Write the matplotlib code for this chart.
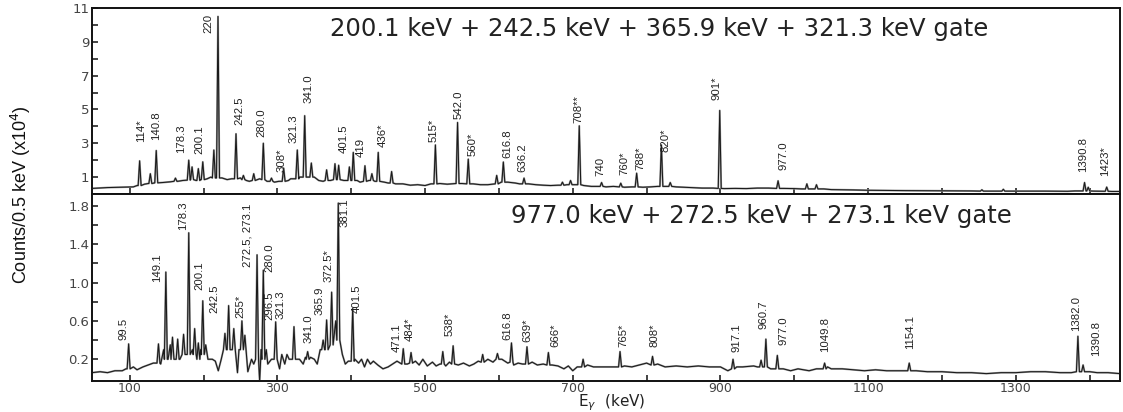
import matplotlib
matplotlib.use('Agg')
import matplotlib.pyplot as plt
from matplotlib import font_manager
import numpy as np


def has_font(name):
    try:
        font_manager.findfont(font_manager.FontProperties(family=name), fallback_to_default=False)
        return True
    except Exception:
        return False


NARROW = 'Liberation Sans Narrow' if has_font('Liberation Sans Narrow') else 'Liberation Sans'
LBL_FS = 9.5 if NARROW == 'Liberation Sans Narrow' else 8.2
YL_FS = 15 if NARROW == 'Liberation Sans Narrow' else 13

# ---------------- data: top panel (200.1 + 242.5 + 365.9 + 321.3 keV gate) ----------------
top_bg_E = [49, 70, 90, 105, 110, 120, 125, 133, 145, 155, 165, 172, 190, 196, 205, 210, 225, 232,
            238, 250, 258, 262, 270, 276, 286, 296, 302, 315, 318, 330, 350, 356, 362, 372, 376, 390,
            395, 408, 412, 424, 432, 445, 450, 460, 470, 480, 490, 500, 508, 520, 530, 550, 565, 575,
            585, 595, 603, 612, 622, 628, 640, 650, 660, 670, 680, 692, 700, 715, 725, 735, 745, 755,
            770, 780, 795, 805, 815, 825, 840, 850, 860, 875, 890, 905, 920, 935, 950, 965, 985, 1000,
            1010, 1040, 1050, 1080, 1100, 1150, 1200, 1240, 1270, 1300, 1340, 1370, 1380, 1405, 1415,
            1430, 1441]
top_bg_Y = [0.33, 0.38, 0.40, 0.42, 0.50, 0.58, 0.62, 0.65, 0.68, 0.72, 0.75, 0.80, 0.80, 0.85, 0.90,
            1.00, 0.95, 0.85, 0.90, 0.95, 0.80, 0.75, 0.80, 0.90, 0.75, 0.70, 0.75, 0.80, 0.90, 1.00,
            1.00, 0.80, 0.75, 0.80, 0.90, 0.80, 0.75, 0.80, 0.70, 0.80, 0.75, 0.70, 0.65, 0.60, 0.60,
            0.52, 0.55, 0.50, 0.60, 0.62, 0.58, 0.62, 0.60, 0.55, 0.55, 0.60, 0.70, 0.70, 0.65, 0.60,
            0.60, 0.55, 0.52, 0.50, 0.52, 0.55, 0.55, 0.50, 0.45, 0.45, 0.42, 0.45, 0.40, 0.42, 0.40,
            0.42, 0.45, 0.45, 0.42, 0.40, 0.38, 0.35, 0.35, 0.32, 0.33, 0.32, 0.35, 0.35, 0.33, 0.32,
            0.30, 0.30, 0.26, 0.24, 0.22, 0.20, 0.19, 0.18, 0.17, 0.17, 0.17, 0.16, 0.18, 0.17, 0.16,
            0.15, 0.15]
top_pk_E = [113.5, 128, 136, 162, 180, 184.5, 193, 199, 214, 219.6, 244, 254, 268, 281, 292, 308.5,
            327, 337, 346, 366.7, 378, 383, 397.5, 402.8, 418.6, 428, 436.6, 454.7, 514, 544, 558.5,
            597, 606, 634, 686, 697, 708.8, 739, 765, 786.5, 820, 832, 899, 978, 1017, 1030, 1254,
            1283, 1393, 1398, 1423]
top_pk_H = [1.96, 1.2, 2.57, 0.94, 2.0, 1.6, 1.5, 1.9, 2.6, 10.5, 3.56, 1.1, 1.2, 3.0, 0.94, 1.53,
            2.6, 4.63, 1.83, 1.43, 1.79, 1.7, 1.6, 2.46, 1.67, 1.2, 2.46, 1.33, 2.9, 4.23, 2.06,
            1.1, 1.89, 0.94, 0.7, 0.8, 4.03, 0.68, 0.64, 1.23, 2.9, 0.68, 4.94, 0.78, 0.6, 0.55, 0.25,
            0.28, 0.68, 0.4, 0.41]
top_pk_B = [0.5, 0.62, 0.66, 0.75, 0.82, 0.85, 0.8, 0.85, 0.95, 0.95, 0.9, 0.85, 0.8, 0.85, 0.75, 0.75,
            0.9, 1.0, 1.0, 0.8, 0.85, 0.85, 0.8, 0.8, 0.75, 0.8, 0.75, 0.65, 0.6, 0.62, 0.6,
            0.6, 0.7, 0.6, 0.52, 0.55, 0.55, 0.45, 0.42, 0.42, 0.45, 0.45, 0.33, 0.33, 0.3, 0.3, 0.17,
            0.17, 0.18, 0.18, 0.16]
top_lbl_text = ["114*", "140.8", "178.3", "200.1", "220", "242.5", "280.0", "308*", "321.3", "341.0",
                "401.5", "419", "436*", "515*", "542.0", "560*", "616.8", "636.2", "708**", "740",
                "760*", "788*", "820*", "901*", "977.0", "1390.8", "1423*"]
top_lbl_E = [116, 135.6, 170, 194, 206, 248.4, 278.7, 305.5, 322, 341.8, 389.5, 412.8, 443, 511, 545,
             564.4, 611, 632, 707.4, 736.8, 770.6, 791, 826, 894.8, 985, 1391, 1420.5]
top_lbl_Y = [3.1, 3.2, 2.43, 2.35, 9.52, 4.1, 3.4, 1.3, 3.0, 5.38, 2.45, 2.2, 2.8, 3.1, 4.43, 2.22,
             2.12, 1.33, 4.2, 1.04, 1.1, 1.43, 2.51, 5.57, 1.43, 1.33, 1.04]
top_title = "200.1 keV + 242.5 keV + 365.9 keV + 321.3 keV gate"

# ---------------- data: bottom panel (977.0 + 272.5 + 273.1 keV gate) ----------------
bot_bg_E = [49, 60, 70, 80, 90, 95, 105, 110, 118, 125, 132, 142, 146, 152, 155, 160, 168, 171, 176,
            185, 190, 196, 203, 206, 212, 216, 220, 224, 228, 238, 246, 248, 256, 260, 265, 268, 276,
            278, 285, 287, 292, 300, 303, 306, 310, 313, 316, 320, 325, 330, 335, 338, 345, 350, 354,
            358, 369, 376, 379, 388, 392, 396, 405, 410, 414, 418, 422, 426, 430, 436, 443, 450, 456,
            462, 476, 487, 492, 497, 503, 510, 515, 520, 528, 533, 545, 552, 560, 566, 572, 585, 592,
            604, 612, 620, 626, 632, 645, 652, 660, 672, 680, 688, 694, 700, 706, 720, 728, 740, 755,
            770, 780, 790, 800, 815, 825, 840, 855, 870, 885, 900, 910, 922, 930, 945, 950, 968, 972,
            985, 995, 1005, 1020, 1030, 1045, 1050, 1065, 1080, 1095, 1110, 1125, 1140, 1165, 1180,
            1200, 1220, 1240, 1260, 1280, 1300, 1320, 1340, 1360, 1375, 1400, 1410, 1425, 1441]
bot_bg_Y = [0.06, 0.07, 0.06, 0.08, 0.08, 0.10, 0.12, 0.09, 0.12, 0.14, 0.16, 0.15, 0.30, 0.20,
            0.35, 0.22, 0.20, 0.35, 0.25, 0.30, 0.15, 0.30, 0.35, 0.20, 0.20, 0.18, 0.08, 0.20, 0.30,
            0.30, 0.06, 0.30, 0.45, 0.07, 0.20, 0.15, -0.03, 0.30, 0.30, 0.15, 0.20, 0.20, 0.10, 0.25,
            0.15, 0.25, 0.20, 0.25, 0.06, 0.20, 0.15, 0.22, 0.22, 0.20, 0.15, 0.30, 0.35, 0.40, 0.60,
            0.25, 0.15, 0.18, 0.20, 0.16, 0.20, 0.12, 0.20, 0.15, 0.18, 0.14, 0.10, 0.12, 0.15, 0.18,
            0.15, 0.18, 0.14, 0.20, 0.13, 0.17, 0.13, 0.15, 0.13, 0.17, 0.14, 0.16, 0.13, 0.15, 0.18,
            0.20, 0.17, 0.20, 0.16, 0.14, 0.16, 0.15, 0.17, 0.14, 0.15, 0.14, 0.13, 0.10, 0.13, 0.08,
            0.12, 0.14, 0.12, 0.12, 0.12, 0.13, 0.12, 0.14, 0.16, 0.15, 0.12, 0.13, 0.12, 0.13, 0.12,
            0.12, 0.08, 0.12, 0.12, 0.13, 0.12, 0.10, 0.10, 0.10, 0.08, 0.10, 0.08, 0.10, 0.12, 0.10,
            0.10, 0.09, 0.08, 0.09, 0.08, 0.08, 0.08, 0.07, 0.07, 0.06, 0.06, 0.05, 0.06, 0.06, 0.07,
            0.07, 0.06, 0.06, 0.07, 0.06, 0.06, 0.05]
bot_pk_E = [98.6, 139, 149, 158, 165, 173, 180, 188, 193, 199, 229, 234, 241, 252, 272.5, 281, 297.7,
            322.5, 341, 362, 366.7, 373.5, 382.5, 402, 470.5, 481, 524, 538, 578, 598, 617, 638, 667,
            714, 764, 808, 917, 955, 961.5, 977, 1041, 1155.6, 1384, 1391]
bot_pk_H = [0.36, 0.36, 1.11, 0.43, 0.41, 0.46, 1.52, 0.52, 0.37, 0.81, 0.47, 0.76, 0.52, 0.6, 1.29,
            1.13, 0.59, 0.54, 0.28, 0.4, 0.61, 0.9, 1.83, 0.73, 0.31, 0.27, 0.28, 0.34, 0.25, 0.26,
            0.37, 0.33, 0.27, 0.2, 0.28, 0.23, 0.2, 0.19, 0.41, 0.24, 0.16, 0.16, 0.44, 0.14]
bot_pk_B = [0.1, 0.16, 0.2, 0.2, 0.2, 0.25, 0.25, 0.25, 0.2, 0.25, 0.3, 0.3, 0.3, 0.3, 0.2, 0.2, 0.2,
            0.2, 0.2, 0.3, 0.3, 0.35, 0.4, 0.18, 0.15, 0.16, 0.15, 0.15, 0.17, 0.2, 0.17, 0.15, 0.14,
            0.12, 0.12, 0.14, 0.1, 0.12, 0.12, 0.1, 0.1, 0.08, 0.07, 0.07]
bot_lbl_text = ["99.5", "149.1", "178.3", "200.1", "242.5", "255*", "272.5, 273.1", "280.0", "296.5",
                "321.3", "341.0", "365.9", "372.5*", "381.1", "401.5", "471.1", "484*", "538*",
                "616.8", "639*", "666*", "765*", "808*", "917.1", "960.7", "977.0", "1049.8", "1154.1",
                "1382.0", "1390.8"]
bot_lbl_E = [92, 136.5, 172.6, 195, 214.6, 250, 259, 289, 289, 304, 341.8, 357.7, 369, 391, 407,
             461, 479, 532.7, 611, 638, 677, 769, 810, 922, 958, 985, 1041.5, 1156.5, 1382, 1408]
bot_lbl_Y = [0.4, 1.01, 1.55, 0.92, 0.68, 0.63, 1.16, 1.11, 0.61, 0.62, 0.37, 0.66, 1.01, 1.58, 0.68,
             0.28, 0.39, 0.44, 0.4, 0.38, 0.33, 0.33, 0.33, 0.28, 0.52, 0.35, 0.28, 0.31, 0.5, 0.23]
bot_title = "977.0 keV + 272.5 keV + 273.1 keV gate"

x_limits = (49, 1441)
x_major = [100, 300, 500, 700, 900, 1100, 1300]
top_yticks = [1, 3, 5, 7, 9, 11]
bot_yticks = [0.2, 0.6, 1.0, 1.4, 1.8]


def build(bgE, bgY, pkE, pkH, pkB, hw=2.0):
    pts = []
    for e, y in zip(bgE, bgY):
        if all(abs(e - p) > hw + 0.5 for p in pkE):
            pts.append((e, y))
    for e, h, b in zip(pkE, pkH, pkB):
        pts += [(e - hw, b), (e, h), (e + hw, b)]
    pts.sort()
    arr = np.array(pts)
    return arr[:, 0], arr[:, 1]


fig = plt.figure(figsize=(11.23, 4.12), dpi=100)
L = 92 / 1123
W = (1120 - 92) / 1123
ax_top = fig.add_axes([L, (412 - 194) / 412, W, 186 / 412])
ax_bot = fig.add_axes([L, (412 - 381) / 412, W, 187 / 412])

line_col = '#1a1a1a'
halo_col = '#9a9a9a'

for ax, bgE, bgY, pkE, pkH, pkB in [
        (ax_top, top_bg_E, top_bg_Y, top_pk_E, top_pk_H, top_pk_B),
        (ax_bot, bot_bg_E, bot_bg_Y, bot_pk_E, bot_pk_H, bot_pk_B)]:
    xs, ys = build(bgE, bgY, pkE, pkH, pkB)
    ax.plot(xs, ys, color=halo_col, lw=1.4, zorder=2)
    ax.plot(xs, ys, color=line_col, lw=0.75, zorder=3)
    ax.set_xlim(*x_limits)
    ax.set_xticks(np.arange(100, 1441, 100))
    for s in ax.spines.values():
        s.set_linewidth(1.4)
        s.set_color('#111111')
    ax.tick_params(direction='in', length=4, width=1.1, colors='#111111',
                   labelcolor='#444444', labelsize=9.5, pad=2)

# top axes
ax_top.set_ylim(0, 11)
ax_top.set_yticks(range(1, 12))
ax_top.set_yticklabels([str(v) if v in top_yticks else '' for v in range(1, 12)])
ax_top.tick_params(axis='x', labelbottom=False)

# bottom axes
ax_bot.set_ylim(-0.027, 1.925)
yt = [0.2, 0.4, 0.6, 0.8, 1.0, 1.2, 1.4, 1.6, 1.8]
ax_bot.set_yticks(yt)
ax_bot.set_yticklabels([f"{v:.1f}" if any(abs(v - b) < 1e-6 for b in bot_yticks) else '' for v in yt])
ax_bot.set_xticklabels([str(v) if v in x_major else '' for v in range(100, 1441, 100)])
ax_bot.tick_params(axis='x', pad=1, labelsize=9)

# peak labels
for ax, texts, es, ys in [(ax_top, top_lbl_text, top_lbl_E, top_lbl_Y),
                          (ax_bot, bot_lbl_text, bot_lbl_E, bot_lbl_Y)]:
    for t, e, y in zip(texts, es, ys):
        ax.text(e, y, t, rotation=90, ha='center', va='bottom',
                fontsize=LBL_FS, family=[NARROW, 'DejaVu Sans'], color='#222222', zorder=4)

# gate titles
ax_top.text(0.5516, 0.888, top_title, transform=ax_top.transAxes, ha='center', va='center',
            fontsize=17.5, family='DejaVu Sans', color='#222222')
ax_bot.text(0.651, 0.882, bot_title, transform=ax_bot.transAxes, ha='center', va='center',
            fontsize=17.5, family='DejaVu Sans', color='#222222')

# axis labels
fig.text(21 / 1123, 1 - 194.5 / 412, r"Counts/0.5 keV (x10$^{4}$)", rotation=90,
         ha='center', va='center', fontsize=YL_FS, family=[NARROW, 'DejaVu Sans'], color='#111111')
fig.text(612 / 1123, 1 - 406.5 / 412, r"E$_{\gamma}$  (keV)", ha='center', va='baseline',
         fontsize=11, family='DejaVu Sans', color='#222222')

fig.savefig('out.png', dpi=100)
